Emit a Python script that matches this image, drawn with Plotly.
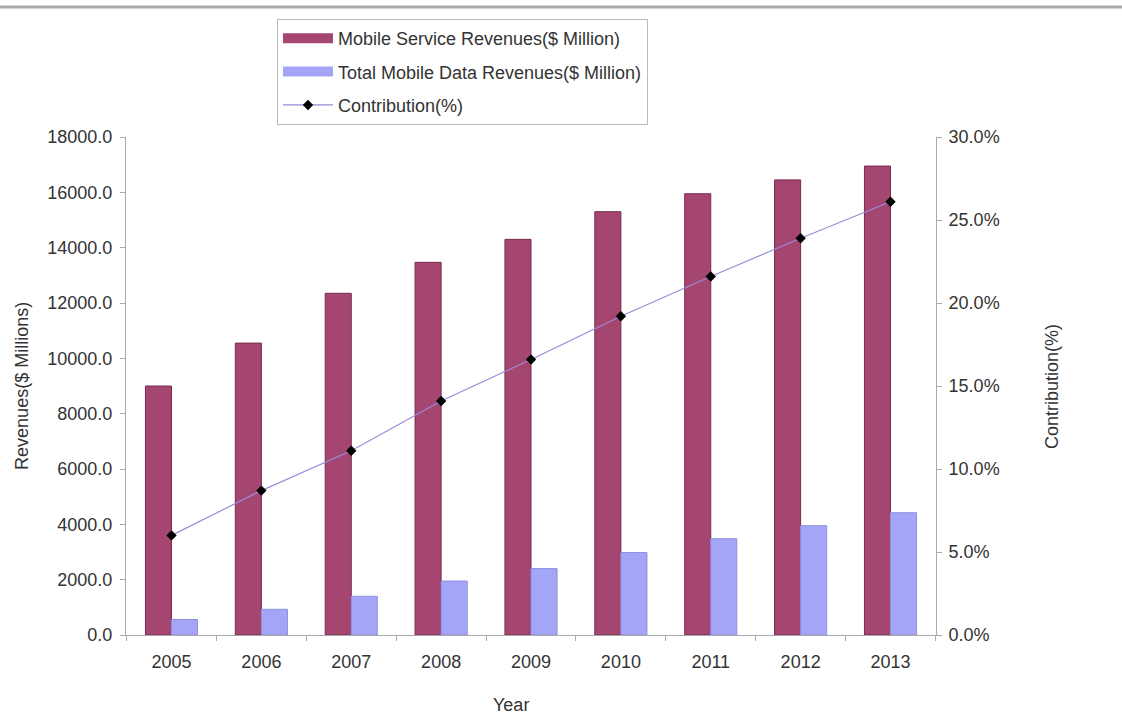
import plotly.graph_objects as go

years = ["2005", "2006", "2007", "2008", "2009", "2010", "2011", "2012", "2013"]
mobile_service = [9000, 10550, 12350, 13470, 14300, 15300, 15950, 16450, 16950]
mobile_data = [560, 930, 1400, 1950, 2400, 2980, 3480, 3950, 4420]
contribution = [6.0, 8.7, 11.1, 14.1, 16.6, 19.2, 21.6, 23.9, 26.1]

names = ["Mobile Service Revenues($ Million)",
         "Total Mobile Data Revenues($ Million)",
         "Contribution(%)"]

FONT = "Liberation Sans, Arial, sans-serif"
TXT = "#333333"
MAROON = "#A4466F"
PERI = "#A5A5F7"

fig = go.Figure()
fig.add_trace(go.Bar(
    x=years, y=mobile_service, name=names[0], showlegend=False, legendgroup="a",
    marker=dict(color=MAROON, line=dict(color="#7A2A50", width=1)),
))
fig.add_trace(go.Bar(
    x=years, y=mobile_data, name=names[1], showlegend=False, legendgroup="b",
    marker=dict(color=PERI, line=dict(color="#8F8FE0", width=1)),
))
fig.add_trace(go.Scatter(
    x=years, y=contribution, name=names[2], yaxis="y2", legendgroup="c",
    mode="lines+markers", legendrank=3,
    line=dict(color="#9A8CD8", width=1.2),
    marker=dict(symbol="diamond", color="black", size=8),
))
# legend keys for the bar series (wide rectangles, as in the reference legend)
fig.add_trace(go.Scatter(
    x=[None], y=[None], name=names[0], mode="lines", legendgroup="a",
    legendrank=1, line=dict(color=MAROON, width=10),
))
fig.add_trace(go.Scatter(
    x=[None], y=[None], name=names[1], mode="lines", legendgroup="b",
    legendrank=2, line=dict(color=PERI, width=10),
))

fig.update_layout(
    width=1122, height=717,
    margin=dict(l=126, r=186, t=137, b=82),
    paper_bgcolor="white", plot_bgcolor="white",
    font=dict(family=FONT, size=18, color=TXT),
    barmode="group", bargap=0.42, bargroupgap=0,
    showlegend=True,
    legend=dict(
        x=0.1864, y=1.237, xanchor="left", yanchor="top",
        bgcolor="white", bordercolor="#BBBBBB", borderwidth=1,
        font=dict(family=FONT, size=18, color=TXT),
        itemwidth=50, tracegroupgap=7,
    ),
    xaxis=dict(
        type="category", showline=True, linecolor="#AAAAAA", linewidth=1,
        ticks="outside", tickson="boundaries", ticklen=5, tickcolor="#AAAAAA",
        showgrid=False, tickfont=dict(size=18, color=TXT),
        ticklabelstandoff=10,
    ),
    yaxis=dict(
        range=[0, 18000], dtick=2000, tickformat=".1f",
        showline=True, linecolor="#AAAAAA", linewidth=1,
        ticks="outside", ticklen=5, tickcolor="#AAAAAA",
        showgrid=False, zeroline=False, tickfont=dict(size=18, color=TXT),
        ticklabelstandoff=4,
    ),
    yaxis2=dict(
        range=[0, 30], dtick=5, tickformat=".1f", ticksuffix="%",
        overlaying="y", side="right",
        showline=True, linecolor="#AAAAAA", linewidth=1,
        ticks="outside", ticklen=5, tickcolor="#AAAAAA",
        showgrid=False, zeroline=False, tickfont=dict(size=18, color=TXT),
        ticklabelstandoff=3,
    ),
    annotations=[
        dict(text="Revenues($ Millions)", xref="paper", yref="paper",
             x=-0.1285, y=0.5, xanchor="center", yanchor="middle",
             textangle=-90, showarrow=False, font=dict(size=18, color=TXT)),
        dict(text="Contribution(%)", xref="paper", yref="paper",
             x=1.1432, y=0.5, xanchor="center", yanchor="middle",
             textangle=-90, showarrow=False, font=dict(size=18, color=TXT)),
        dict(text="Year", xref="paper", yref="paper",
             x=0.475, y=-0.14, xanchor="center", yanchor="middle",
             showarrow=False, font=dict(size=18, color=TXT)),
    ],
    shapes=[
        dict(type="line", xref="paper", yref="paper",
             x0=-0.16, x1=1.24, y0=1.261, y1=1.261,
             line=dict(color="#AAAAAA", width=3)),
    ],
)

fig.write_html("out.html")
